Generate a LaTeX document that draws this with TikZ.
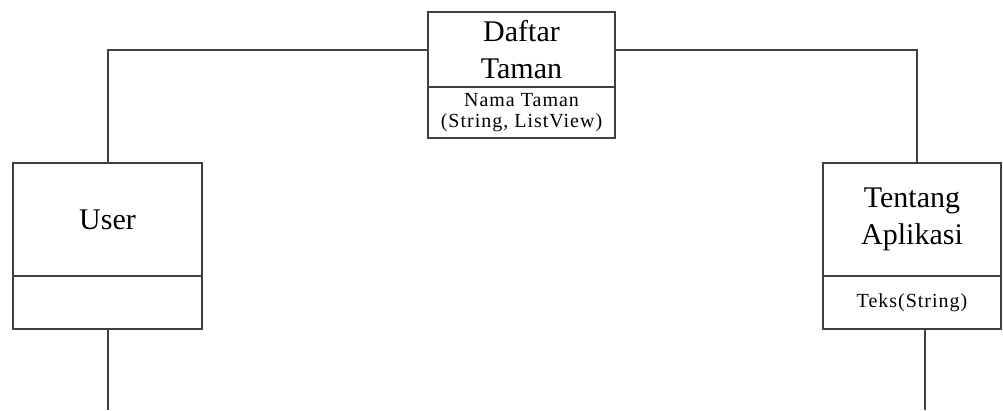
\documentclass[tikz,border=0pt]{standalone}
\usepackage{fontspec}
\setmainfont{Liberation Serif}
\newfontfamily\attrfont[LetterSpace=5]{Liberation Serif}
\usepackage{tikz}
\usetikzlibrary{calc, positioning}

\begin{document}
\begin{tikzpicture}[x=1pt, y=-1pt,
        classname/.style={draw=black!75, line width=2pt, anchor=north west,
            inner sep=0pt, outer sep=0pt, align=center,
            font=\fontsize{30}{37}\selectfont},
        classattr/.style={draw=black!75, line width=2pt, anchor=north west,
            inner sep=0pt, outer sep=0pt, align=center,
            font=\attrfont\fontsize{20}{21}\selectfont},
        link/.style={draw=black!75, line width=2pt}]
    \useasboundingbox (0,0) rectangle (1003,410);
    % Daftar Taman
    \node[classname, minimum width=187pt, minimum height=75pt] (daftar)
        at (428,12) {Daftar\\Taman};
    \node[classattr, minimum width=187pt, minimum height=51pt] (daftarattr)
        at (428,87) {Nama Taman\\(String, ListView)};
    % User
    \node[classname, minimum width=189pt, minimum height=113pt] (user)
        at (13,163) {User};
    \node[classattr, minimum width=189pt, minimum height=53pt] (userattr)
        at (13,276) {};
    % Tentang Aplikasi
    \node[classname, minimum width=178pt, minimum height=113pt] (tentang)
        at (823,163) {Tentang\\Aplikasi};
    \node[classattr, minimum width=178pt, minimum height=53pt] (tentangattr)
        at (823,276) {Teks(String)};
    % Links
    \coordinate (userend) at (107.5,410);
    \coordinate (tentangend) at (925,410);
    \draw[link] (daftar.west) -| (user.north);
    \draw[link] (daftar.east) -| ([xshift=5pt]tentang.north);
    \draw[link] (userattr.south -| userend) -- (userend); % down
    \draw[link] (tentangattr.south -| tentangend) -- (tentangend); % down
\end{tikzpicture}
\end{document}
